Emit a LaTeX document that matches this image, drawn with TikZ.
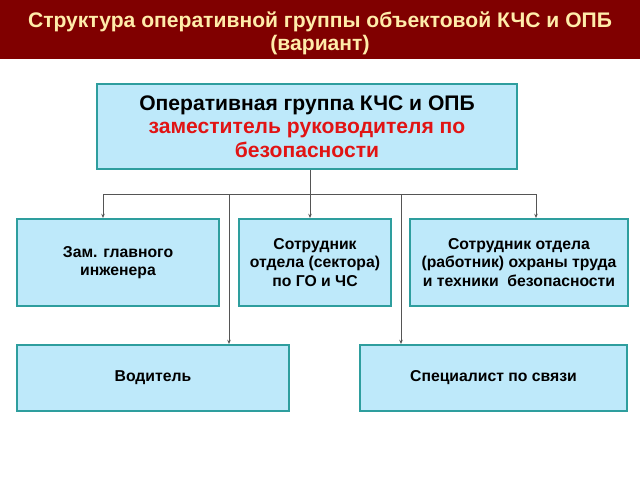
\documentclass[tikz,border=0pt]{standalone}
\usepackage{fontspec}
\setmainfont{Liberation Sans}
\usetikzlibrary{arrows.meta}
\definecolor{barred}{RGB}{128,0,0}
\definecolor{titletext}{RGB}{255,236,170}
\definecolor{boxfill}{RGB}{190,233,250}
\definecolor{boxline}{RGB}{46,158,158}
\definecolor{linkgray}{RGB}{85,85,85}
\definecolor{chiefred}{RGB}{225,20,20}
\tikzset{
  unit/.style={draw=boxline, line width=1.4pt, fill=boxfill, align=center,
    inner sep=2pt, font=\fontsize{11.2}{13.3}\selectfont\bfseries},
  link/.style={draw=linkgray, line width=0.6pt, -{Stealth[length=3pt,width=2.5pt]}},
  busline/.style={draw=linkgray, line width=0.6pt}
}
\begin{document}
\begin{tikzpicture}[x=0.025cm, y=-0.025cm]
      \useasboundingbox (0,0) rectangle (640,480);
      % Title bar
      \fill[barred] (0,0) rectangle (640,59);
      \node[text=titletext, align=center, font=\fontsize{15}{16.5}\selectfont\bfseries]
        (title) at (320,33) {Структура оперативной группы объектовой КЧС и ОПБ\\(вариант)};
      % Boxes
      \node[unit, minimum width=10.5cm, minimum height=2.125cm,
        font=\fontsize{15}{16.7}\selectfont\bfseries] (chief) at (307,126.5)
        {Оперативная группа КЧС и ОПБ\\\textcolor{chiefred}{заместитель руководителя по}\\\textcolor{chiefred}{безопасности}};
      \node[unit, minimum width=5.05cm, minimum height=2.175cm] (deputy) at (118,262.5)
        {Зам. главного\\инженера};
      \node[unit, minimum width=3.8cm, minimum height=2.175cm] (civil) at (315,262.5)
        {Сотрудник\\отдела (сектора)\\по ГО и ЧС};
      \node[unit, minimum width=5.45cm, minimum height=2.175cm] (safety) at (519,262.5)
        {Сотрудник отдела\\(работник) охраны труда\\и техники\ \ безопасности};
      \node[unit, minimum width=6.8cm, minimum height=1.65cm] (driver) at (153,378)
        {Водитель};
      \node[unit, minimum width=6.675cm, minimum height=1.65cm] (comms) at (493.5,378)
        {Специалист по связи};
      % Connectors
      \coordinate (busL) at (103,194);
      \coordinate (busC) at (310,194);
      \coordinate (busR) at (536,194);
      \coordinate (busD) at (229,194);
      \coordinate (busS) at (401,194);
      \draw[busline] (busL) -- (busR);
      \draw[link] (chief.south -| busC) -- (civil.north -| busC);
      \draw[link] (busL) -- (deputy.north -| busL);
      \draw[link] (busR) -- (safety.north -| busR);
      \draw[link] (busD) -- (driver.north -| busD);
      \draw[link] (busS) -- (comms.north -| busS);
    \end{tikzpicture}
\end{document}
